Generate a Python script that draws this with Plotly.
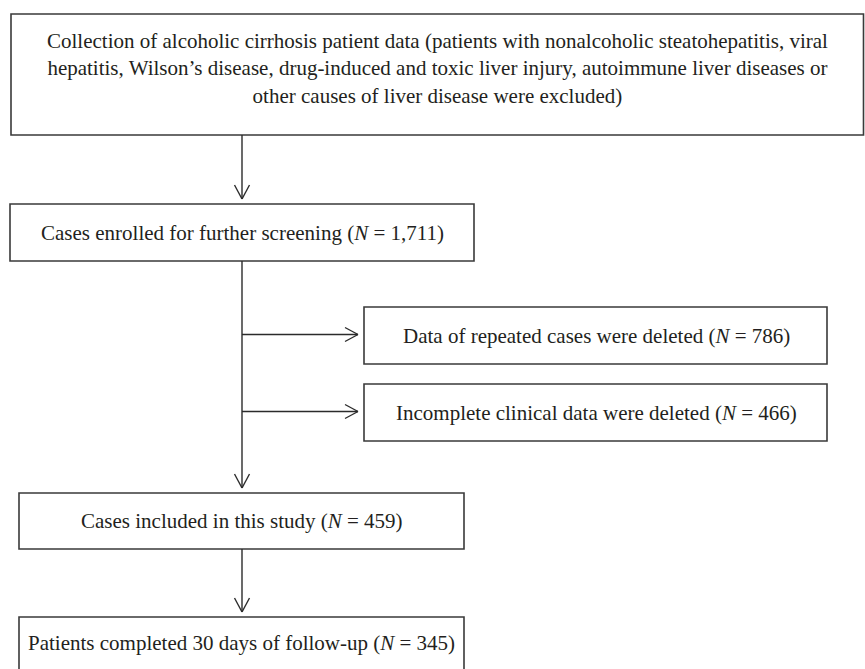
import plotly.graph_objects as go

# ---- data (text content and counts) ----
top_lines = [
    "Collection of alcoholic cirrhosis patient data (patients with nonalcoholic steatohepatitis, viral",
    "hepatitis, Wilson’s disease, drug-induced and toxic liver injury, autoimmune liver diseases or",
    "other causes of liver disease were excluded)",
]
main_labels = [
    "Cases enrolled for further screening",
    "Cases included in this study",
    "Patients completed 30 days of follow-up",
]
main_counts = ["1,711", "459", "345"]
excl_labels = [
    "Data of repeated cases were deleted",
    "Incomplete clinical data were deleted",
]
excl_counts = ["786", "466"]

# ---- layout geometry (window pixels) ----
W, H = 865, 669
FONT = dict(family="Liberation Serif, Times New Roman, serif", size=21, color="#231f20")
LINE = dict(color="#2b2b2b", width=1.4)
BOX = dict(color="#3a3a3a", width=1.6)

top_box = (11, 14, 863.5, 135)
main_boxes = [(10, 204, 474, 261), (19, 493, 464, 549), (19, 617, 464, 680)]
excl_boxes = [(364, 307, 827, 364), (364, 384, 827, 441)]
spine_x = 242

shapes = []
annotations = []


def rect(b):
    shapes.append(dict(type="rect", xref="x", yref="y", x0=b[0], y0=b[1], x1=b[2], y1=b[3],
                       line=BOX, fillcolor="rgba(0,0,0,0)", layer="above"))


def seg(x0, y0, x1, y1):
    shapes.append(dict(type="line", xref="x", yref="y", x0=x0, y0=y0, x1=x1, y1=y1, line=LINE))


def down_arrow(x, y0, y1):
    seg(x, y0, x, y1)
    seg(x - 7.5, y1 - 14, x, y1)
    seg(x + 7.5, y1 - 14, x, y1)


def right_arrow(x0, x1, y):
    seg(x0, y, x1, y)
    seg(x1 - 13, y - 7, x1, y)
    seg(x1 - 13, y + 7, x1, y)


def label(x, y, text):
    annotations.append(dict(x=x, y=y, xref="x", yref="y", text=text, showarrow=False,
                            font=FONT, xanchor="center", yanchor="middle"))


# top box
rect(top_box)
label((top_box[0] + top_box[2]) / 2, 68, "<br>".join(top_lines))

# main boxes
for b, t, n in zip(main_boxes, main_labels, main_counts):
    rect(b)
    cy = (b[1] + b[3]) / 2 if b[3] <= H else b[1] + 26
    label((b[0] + b[2]) / 2, cy, f"{t} (<i>N</i> = {n})")

# exclusion boxes
for b, t, n in zip(excl_boxes, excl_labels, excl_counts):
    rect(b)
    label((b[0] + b[2]) / 2 + 1, (b[1] + b[3]) / 2, f"{t} (<i>N</i> = {n})")
    right_arrow(spine_x, b[0] - 6, (b[1] + b[3]) / 2 - 1)

# vertical connectors
down_arrow(spine_x, top_box[3], main_boxes[0][1] - 5)
down_arrow(spine_x, main_boxes[0][3], main_boxes[1][1] - 5)
down_arrow(spine_x, main_boxes[1][3], main_boxes[2][1] - 5)

fig = go.Figure()
fig.add_trace(go.Scatter(x=[0, W], y=[0, H], mode="markers", marker=dict(opacity=0),
                         hoverinfo="skip", showlegend=False))
fig.update_layout(
    width=W, height=H, margin=dict(l=0, r=0, t=0, b=0),
    paper_bgcolor="white", plot_bgcolor="white",
    xaxis=dict(range=[0, W], visible=False, fixedrange=True),
    yaxis=dict(range=[H, 0], visible=False, fixedrange=True),
    shapes=shapes, annotations=annotations, showlegend=False,
    hovermode=False,
)
fig.write_html(
    "out.html",
    config={"displayModeBar": False, "staticPlot": True},
    post_script="document.body.style.margin='0';document.body.style.overflow='hidden';",
)
